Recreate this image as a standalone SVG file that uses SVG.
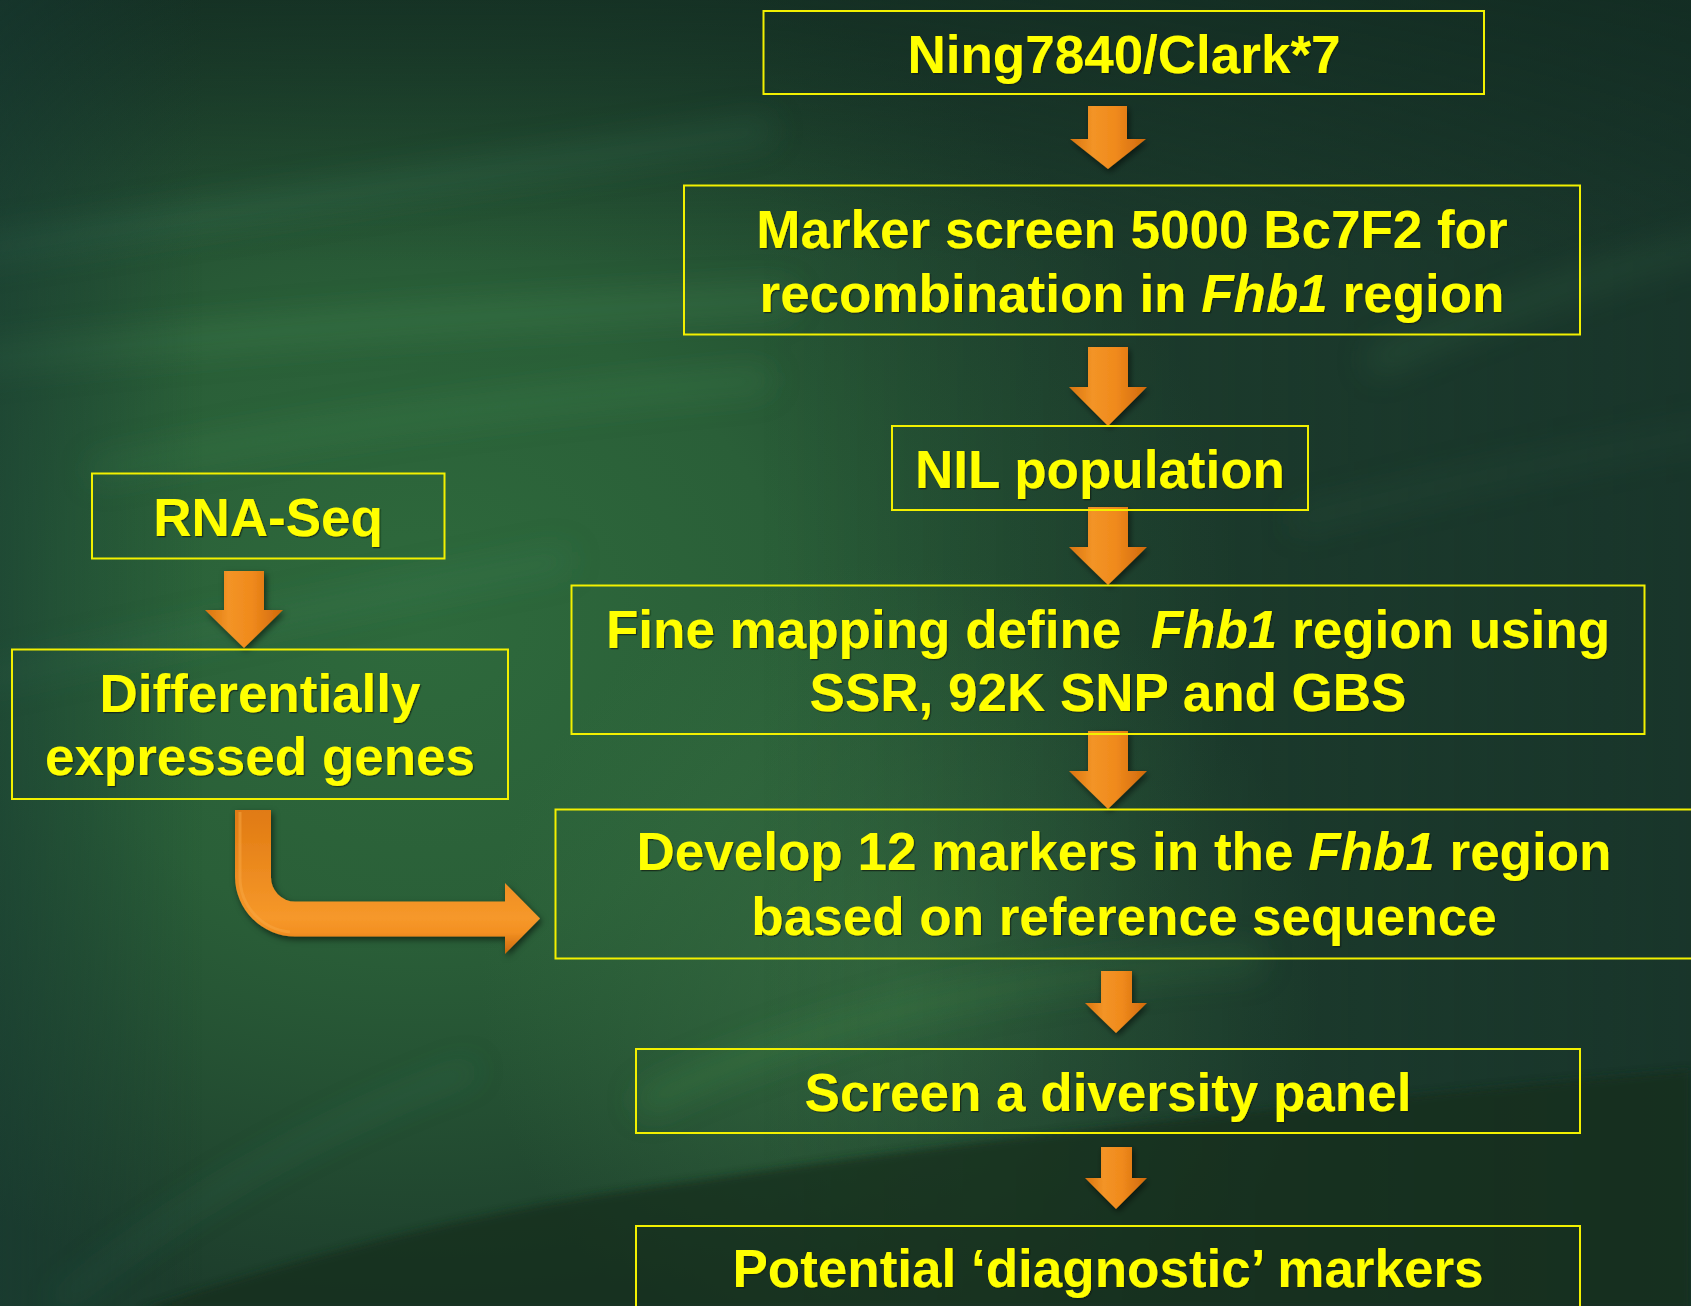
<svg xmlns="http://www.w3.org/2000/svg" width="1691" height="1306" viewBox="0 0 1691 1306">
<defs>
<style>
.box{fill:none;stroke:#f2f000;stroke-width:2}
.t{font-family:"Liberation Sans",Arial,sans-serif;font-weight:bold;font-size:53px;fill:#ffff00;text-anchor:middle;filter:url(#ts)}
.i{font-style:italic}
.arr{fill:url(#og);filter:url(#ds)}
</style>
<linearGradient id="og" x1="0" y1="0" x2="1" y2="0">
<stop offset="0" stop-color="#d9740f"/>
<stop offset="0.3" stop-color="#f39426"/>
<stop offset="0.6" stop-color="#f08a1c"/>
<stop offset="1" stop-color="#d0690c"/>
</linearGradient>
<linearGradient id="og2" x1="0" y1="0" x2="0" y2="1">
<stop offset="0" stop-color="#e07a12"/>
<stop offset="0.75" stop-color="#f6982a"/>
<stop offset="0.85" stop-color="#f39022"/>
<stop offset="1" stop-color="#c9670c"/>
</linearGradient>
<filter id="ds" x="-30%" y="-30%" width="160%" height="160%">
<feDropShadow dx="2" dy="3" stdDeviation="3" flood-color="#000" flood-opacity="0.55"/>
</filter>
<filter id="ts" x="-5%" y="-20%" width="110%" height="140%">
<feDropShadow dx="1.2" dy="1.2" stdDeviation="0.7" flood-color="#0a1a08" flood-opacity="0.7"/>
</filter>
<filter id="blur15"><feGaussianBlur stdDeviation="15"/></filter>
<filter id="blur4"><feGaussianBlur stdDeviation="4"/></filter>
<radialGradient id="g1" cx="420" cy="620" r="820" gradientUnits="userSpaceOnUse" gradientTransform="translate(420 620) scale(1 0.85) translate(-420 -620)">
<stop offset="0" stop-color="#2e6a3c"/>
<stop offset="0.45" stop-color="#2a5f38"/>
<stop offset="1" stop-color="#2a5f38" stop-opacity="0"/>
</radialGradient>
<radialGradient id="g2" cx="900" cy="980" r="420" gradientUnits="userSpaceOnUse">
<stop offset="0" stop-color="#3a7444" stop-opacity="0.7"/>
<stop offset="1" stop-color="#3a7444" stop-opacity="0"/>
</radialGradient>
<linearGradient id="gr" x1="0" y1="0" x2="1" y2="0">
<stop offset="0.45" stop-color="#17302a" stop-opacity="0"/>
<stop offset="1" stop-color="#16302a" stop-opacity="0.55"/>
</linearGradient>
<linearGradient id="gt" x1="0" y1="0" x2="0" y2="1">
<stop offset="0" stop-color="#10281f" stop-opacity="0.6"/>
<stop offset="0.2" stop-color="#10281f" stop-opacity="0"/>
</linearGradient>
<linearGradient id="gl" x1="0" y1="0" x2="1" y2="0">
<stop offset="0" stop-color="#173a33" stop-opacity="0.5"/>
<stop offset="0.12" stop-color="#173a33" stop-opacity="0"/>
</linearGradient>
</defs>

<g id="background">
<rect x="0" y="0" width="1691" height="1306" fill="#1d3d2c"/>
<rect x="0" y="0" width="1691" height="1306" fill="url(#g1)"/>
<rect x="0" y="0" width="1691" height="1306" fill="url(#g2)"/>
<g filter="url(#blur15)" fill="none" stroke-linecap="round">
<path d="M-20 250 Q300 200 760 130" stroke="#3f8060" stroke-width="28" opacity="0.3"/>
<path d="M-20 360 Q350 320 780 300" stroke="#448a55" stroke-width="28" opacity="0.3"/>
<path d="M100 470 Q400 410 760 380" stroke="#448a55" stroke-width="24" opacity="0.25"/>
<path d="M-20 680 Q250 620 560 560" stroke="#3f8060" stroke-width="24" opacity="0.25"/>
<path d="M1380 360 Q1540 290 1720 240" stroke="#448a55" stroke-width="28" opacity="0.3"/>
<path d="M1300 520 Q1500 470 1720 430" stroke="#3a7450" stroke-width="22" opacity="0.25"/>
<path d="M650 1100 Q900 980 1250 960" stroke="#418a4a" stroke-width="28" opacity="0.3"/>
<path d="M60 1300 Q250 1150 470 1070" stroke="#3a8060" stroke-width="12" opacity="0.3"/>
</g>
<rect x="0" y="0" width="1691" height="1306" fill="url(#gr)"/>
<rect x="0" y="0" width="1691" height="1306" fill="url(#gt)"/>
<rect x="0" y="0" width="1691" height="1306" fill="url(#gl)"/>
<path d="M140 1310 Q420 1215 700 1180 Q1100 1120 1691 1070 L1691 1310 Z" fill="#172e1f" opacity="0.75" filter="url(#blur4)"/>
</g>

<g id="connectors">
<path class="arr" d="M1088 106 H1127 V139 H1146 L1108 169 L1070 139 H1088 Z"/>
<path class="arr" d="M1088 347 H1128 V387 H1147 L1108 426 L1069 387 H1088 Z"/>
<path class="arr" d="M1088 507 H1128 V547 H1147 L1108 585 L1069 547 H1088 Z"/>
<path class="arr" d="M1088 731 H1128 V771 H1147 L1108 809 L1069 771 H1088 Z"/>
<path class="arr" d="M1101 971 H1132 V1003 H1147 L1116 1033 L1085 1003 H1101 Z"/>
<path class="arr" d="M1101 1147 H1132 V1178 H1147 L1116 1209 L1085 1178 H1101 Z"/>
<path class="arr" d="M224 571 H264 V610 H283 L244 648 L205 610 H224 Z"/>
<path d="M235 810 H271 V877 A24 24 0 0 0 295 901.5 H505 V883 L540 918.5 L505 954 V936.5 H295 A60 60 0 0 1 235 877 Z" fill="url(#og2)" filter="url(#ds)"/>
<path d="M240 812 V877 A55 55 0 0 0 290 932" fill="none" stroke="#f8a844" stroke-width="3" opacity="0.5"/>
</g>

<g id="n-ning">
<rect class="box" x="763.5" y="11" width="720.5" height="83"/>
<text class="t" x="1124" y="73">Ning7840/Clark*7</text>
</g>
<g id="n-marker">
<rect class="box" x="684" y="185.5" width="896" height="149"/>
<text class="t" x="1132" y="248">Marker screen 5000 Bc7F2 for</text>
<text class="t" x="1132" y="312">recombination in <tspan class="i">Fhb1</tspan> region</text>
</g>
<g id="n-nil">
<rect class="box" x="892" y="426" width="416" height="84"/>
<text class="t" x="1100" y="488">NIL population</text>
</g>
<g id="n-rna">
<rect class="box" x="92" y="473.5" width="352.5" height="85"/>
<text class="t" x="268" y="536">RNA-Seq</text>
</g>
<g id="n-deg">
<rect class="box" x="12" y="649.5" width="496" height="149.5"/>
<text class="t" x="260" y="712">Differentially</text>
<text class="t" x="260" y="775">expressed genes</text>
</g>
<g id="n-fine">
<rect class="box" x="571.5" y="585.5" width="1073" height="148.5"/>
<text class="t" x="1108" y="648" xml:space="preserve">Fine mapping define  <tspan class="i">Fhb1</tspan> region using</text>
<text class="t" x="1108" y="711">SSR, 92K SNP and GBS</text>
</g>
<g id="n-develop">
<rect class="box" x="555.5" y="809.5" width="1145" height="149"/>
<text class="t" x="1124" y="870">Develop 12 markers in the <tspan class="i">Fhb1</tspan> region</text>
<text class="t" x="1124" y="935">based on reference sequence</text>
</g>
<g id="n-screen">
<rect class="box" x="636" y="1049" width="944" height="84"/>
<text class="t" x="1108" y="1111">Screen a diversity panel</text>
</g>
<g id="n-potential">
<rect class="box" x="636" y="1226" width="944" height="100"/>
<text class="t" x="1108" y="1287">Potential ‘diagnostic’ markers</text>
</g>
</svg>
